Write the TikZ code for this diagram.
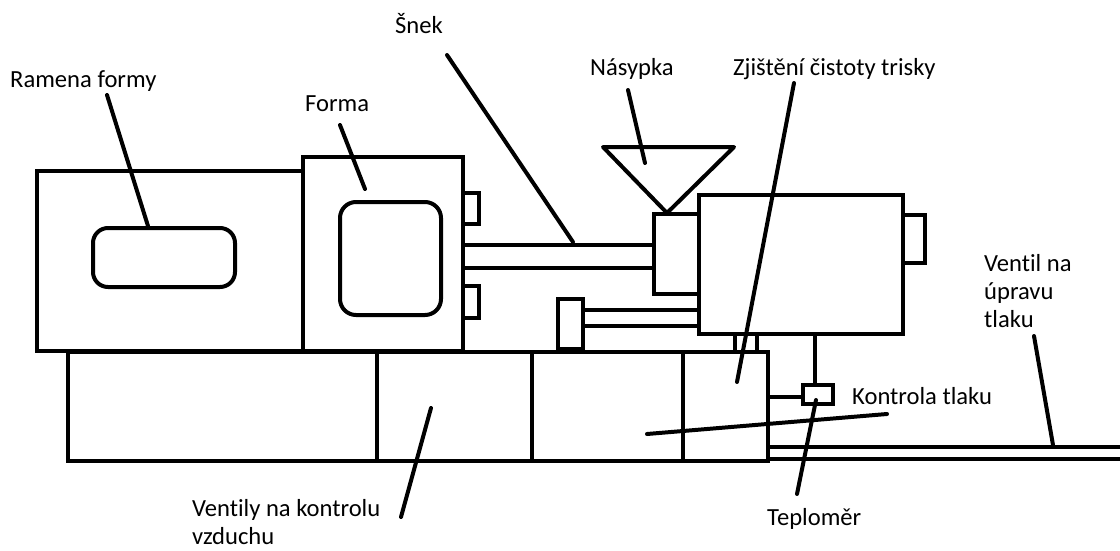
\documentclass[tikz,border=0pt]{standalone}
\usepackage{fontspec}
\setmainfont[Ligatures=NoCommon]{Carlito}
\begin{document}
\begin{tikzpicture}[x=1pt,y=-1pt,
  part/.style={draw=black,line width=4pt,line join=miter},
  leader/.style={draw=black,line width=4pt,line cap=round},
  lbl/.style={anchor=base west,inner sep=0pt,font=\fontsize{24.6}{28}\selectfont,text=black,align=left}]
\useasboundingbox (0,0) rectangle (1120,550);

% --- clamping unit (mould arms) ---
\draw[part] (37,171) rectangle (303,351);
\draw[part,rounded corners=15pt] (93,228) rectangle (235,287);

% --- mould ---
\draw[part] (303,157) rectangle (463,351);
\draw[part,rounded corners=16pt] (340,202) rectangle (441,315);
\draw[part] (463,193) rectangle (479,224);
\draw[part] (463,286) rectangle (479,318);

% --- screw shaft and barrel ---
\draw[part] (463,245) -- (654,245);
\draw[part] (463,268) -- (654,268);
\draw[part] (654,214) rectangle (699,294);
\draw[part] (699,195) rectangle (903,334);
\draw[part] (903,215) rectangle (925,263);

% --- hopper ---
\draw[part,line join=round,line cap=round] (603,147) -- (734,147) -- (667,213) -- cycle;

% --- injection cylinder ---
\draw[part] (558,299) rectangle (583,349);
\draw[part] (583,310) -- (699,310);
\draw[part] (583,326) -- (699,326);

% --- machine base ---
\draw[part] (68,352) rectangle (768,461);
\foreach \xx in {377,532,683} \draw[part] (\xx,352) -- (\xx,461);
\draw[part] (735,334) rectangle (757,352);

% --- pressure control branch ---
\draw[part] (815,334) -- (815,385);
\draw[part] (803,385) rectangle (833,404);
\draw[part] (768,397) -- (803,397);

% --- pressure line ---
\draw[part] (768,447) -- (1120,447);
\draw[part] (768,459) -- (1120,459);

% --- labels (multi-line labels are placed by their last baseline) ---
\node[lbl] (ramena) at (10,87) {Ramena formy};
\node[lbl] (forma) at (305,111) {Forma};
\node[lbl] (snek) at (395,33) {Šnek};
\node[lbl] (nasypka) at (590,75) {Násypka};
\node[lbl] (zjisteni) at (733,75) {Zjištění čistoty trisky};
\node[lbl] (ventil) at (984,327) {Ventil na\\úpravu\\tlaku};
\node[lbl] (kontrola) at (852,404) {Kontrola tlaku};
\node[lbl] (ventily) at (192,544) {Ventily na kontrolu\\vzduchu};
\node[lbl] (teplomer) at (767,525) {Teploměr};

% --- leader end points ---
\coordinate (ramenaA) at (107,95);   \coordinate (ramenaB) at (148,226);
\coordinate (formaA) at (340,125);   \coordinate (formaB) at (365,189);
\coordinate (snekA) at (447,55);     \coordinate (snekB) at (573,242);
\coordinate (nasA) at (628,90);      \coordinate (nasB) at (645,163);
\coordinate (zjiA) at (794,83);      \coordinate (zjiB) at (737,382);
\coordinate (konA) at (887,414);     \coordinate (konB) at (647,434);
\coordinate (tepA) at (797,494);     \coordinate (tepB) at (816,400);
\coordinate (venA) at (1034,336);    \coordinate (venB) at (1053,445);
\coordinate (vyA) at (401,517);      \coordinate (vyB) at (431,408);

% --- leaders ---
\draw[leader] (ramenaA) -- (ramenaB);
\draw[leader] (formaA) -- (formaB);
\draw[leader] (snekA) -- (snekB);
\draw[leader] (nasA) -- (nasB);
\draw[leader] (zjiA) -- (zjiB);
\draw[leader] (konA) -- (konB);
\draw[leader] (tepA) -- (tepB);
\draw[leader] (venA) -- (venB);
\draw[leader] (vyA) -- (vyB);
\end{tikzpicture}
\end{document}
